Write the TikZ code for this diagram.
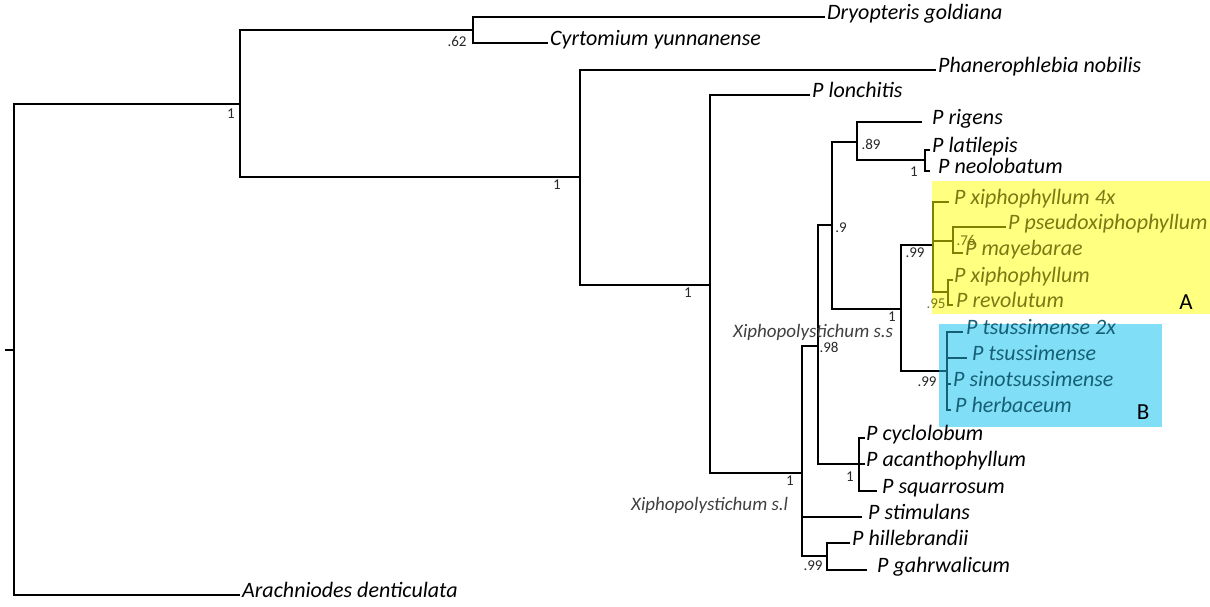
\documentclass[tikz,border=0pt]{standalone}
\usepackage{fontspec}
\setmainfont{Carlito}
\definecolor{olv}{RGB}{128,128,0}
\definecolor{olvtext}{RGB}{122,122,20}
\definecolor{yfill}{RGB}{255,255,128}
\definecolor{bfill}{RGB}{128,222,247}
\definecolor{teal1}{RGB}{22,96,118}
\definecolor{suptext}{RGB}{40,40,40}
\begin{document}
\begin{tikzpicture}[x=1pt,y=-1pt,
  br/.style={line width=2.6pt, line join=miter},
  leaf/.style={anchor=mid west, inner xsep=2pt, inner ysep=0pt, font=\fontsize{22}{22}\selectfont\itshape},
  sup/.style={inner sep=0pt, font=\fontsize{15}{15}\selectfont, text=suptext},
  grp/.style={inner sep=0pt, font=\fontsize{19}{19}\selectfont\itshape, text=black!75},
  boxlab/.style={inner sep=0pt, font=\fontsize{23}{23}\selectfont}]
\useasboundingbox (0,0) rectangle (1210,607);

% clade boxes
\fill[yfill] (932,181) rectangle (1210,314);
\fill[bfill] (939,324) rectangle (1162,427);
\node[boxlab] (labA) at (1186,302) {A};
\node[boxlab] (labB) at (1143,412) {B};

% internal nodes
\coordinate (root) at (14,350);
\coordinate (stub) at (5,350);
\coordinate (nA) at (240,104);
\coordinate (nDC) at (473,30);
\coordinate (nB) at (580,177);
\coordinate (nC) at (710,285);
\coordinate (nSL) at (802,473);
\coordinate (nSS) at (818,346);
\coordinate (n9) at (832,225);
\coordinate (n89) at (857,142);
\coordinate (nLN) at (925,160);
\coordinate (n1AB) at (901,309);
\coordinate (nYA) at (933,245);
\coordinate (n76) at (953,241);
\coordinate (n95) at (948,292);
\coordinate (nBB) at (947,371);
\coordinate (nBin) at (939,371);
\coordinate (nCyc) at (859,464);
\coordinate (nHG) at (827,556);

% leaves
\node[leaf] (dry) at (825,17) {Dryopteris goldiana};
\node[leaf] (cyr) at (548,43) {Cyrtomium yunnanense};
\node[leaf] (phan) at (936,70) {Phanerophlebia nobilis};
\node[leaf] (lon) at (810,95) {P lonchitis};
\node[leaf, inner xsep=10pt] (rig) at (922,122) {P rigens};
\node[leaf] (lat) at (930,150) {P latilepis};
\node[leaf, inner xsep=8pt] (neo) at (930,171) {P neolobatum};
\node[leaf, text=olvtext, inner xsep=5pt] (x4) at (949,202) {P xiphophyllum 4x};
\node[leaf, text=olvtext] (pse) at (1006,227) {P pseudoxiphophyllum};
\node[leaf, text=olvtext] (may) at (963,253) {P mayebarae};
\node[leaf, text=olvtext, inner xsep=1pt] (xip) at (953,280) {P xiphophyllum};
\node[leaf, text=olvtext, inner xsep=3pt] (rev) at (953,305) {P revolutum};
\node[leaf, text=teal1, inner xsep=3pt] (ts2) at (963,332) {P tsussimense 2x};
\node[leaf, text=teal1, inner xsep=5pt] (ts) at (967,358) {P tsussimense};
\node[leaf, text=teal1] (sin) at (951,384) {P sinotsussimense};
\node[leaf, text=teal1, inner xsep=4pt] (her) at (951,410) {P herbaceum};
\node[leaf, inner xsep=1pt] (cyc) at (865,438) {P cyclolobum};
\node[leaf, inner xsep=1pt] (aca) at (865,464) {P acanthophyllum};
\node[leaf, inner xsep=5pt] (squ) at (877,491) {P squarrosum};
\node[leaf, inner xsep=6pt] (sti) at (862,517) {P stimulans};
\node[leaf] (hil) at (850,543) {P hillebrandii};
\node[leaf, inner xsep=10pt] (gah) at (867,570) {P gahrwalicum};
\node[leaf] (ara) at (240,595) {Arachniodes denticulata};

% black branches
\draw[br] (stub) -- (root);
\draw[br] (root) |- (nA);
\draw[br] (root) |- (ara.mid west);
\draw[br] (nA) |- (nDC);
\draw[br] (nA) |- (nB);
\draw[br] (nDC) |- (dry.mid west);
\draw[br] (nDC) |- (cyr.mid west);
\draw[br] (nB) |- (phan.mid west);
\draw[br] (nB) |- (nC);
\draw[br] (nC) |- (lon.mid west);
\draw[br] (nC) |- (nSL);
\draw[br] (nSL) |- (nSS);
\draw[br] (nSL) |- (sti.mid west);
\draw[br] (nSL) |- (nHG);
\draw[br] (nSS) |- (n9);
\draw[br] (nSS) |- (nCyc);
\draw[br] (n9) |- (n89);
\draw[br] (n9) |- (n1AB);
\draw[br] (n89) |- (rig.mid west);
\draw[br] (n89) |- (nLN);
\draw[br] (nLN) |- (lat.mid west);
\draw[br] (nLN) |- (neo.mid west);
\draw[br] (n1AB) |- (nYA);
\draw[br] (n1AB) |- (nBin);
\draw[br] (nCyc) |- (cyc.mid west);
\draw[br] (nCyc) |- (aca.mid west);
\draw[br] (nCyc) |- (squ.mid west);
\draw[br] (nHG) |- (hil.mid west);
\draw[br] (nHG) |- (gah.mid west);

% yellow clade
\begin{scope}[br, olv]
\draw (nYA) |- (x4.mid west);
\draw (nYA) |- (n76);
\draw (nYA) |- (n95);
\draw (n76) |- (pse.mid west);
\draw (n76) |- (may.mid west);
\draw (n95) |- (xip.mid west);
\draw (n95) |- (rev.mid west);
\end{scope}

% blue clade
\begin{scope}[br, teal1]
\draw (nBin) -- (nBB);
\draw (nBB) |- (ts2.mid west);
\draw (nBB) |- (ts.mid west);
\draw (nBB) |- (sin.mid west);
\draw (nBB) |- (her.mid west);
\end{scope}

% support values
\node[sup] (s1) at (231,114) {1};
\node[sup] (s2) at (457,41) {.62};
\node[sup] (s3) at (557,185) {1};
\node[sup] (s4) at (688,293) {1};
\node[sup] (s5) at (790,481) {1};
\node[sup] (s6) at (871,144) {.89};
\node[sup] (s7) at (914,172) {1};
\node[sup] (s8) at (841,228) {.9};
\node[sup] (s9) at (915,253) {.99};
\node[sup] (s10) at (892,317) {1};
\node[sup] (s11) at (927,382) {.99};
\node[sup] (s12) at (829,347) {.98};
\node[sup] (s13) at (850,477) {1};
\node[sup] (s14) at (813,566) {.99};
\node[sup, text=olvtext] (s15) at (966,240) {.76};
\node[sup, text=olvtext] (s16) at (936,304) {.95};

% group labels
\node[grp, anchor=west] (gss) at (733,332) {Xiphopolystichum s.s};
\node[grp, anchor=west] (gsl) at (631,505) {Xiphopolystichum s.l};
\end{tikzpicture}
\end{document}
